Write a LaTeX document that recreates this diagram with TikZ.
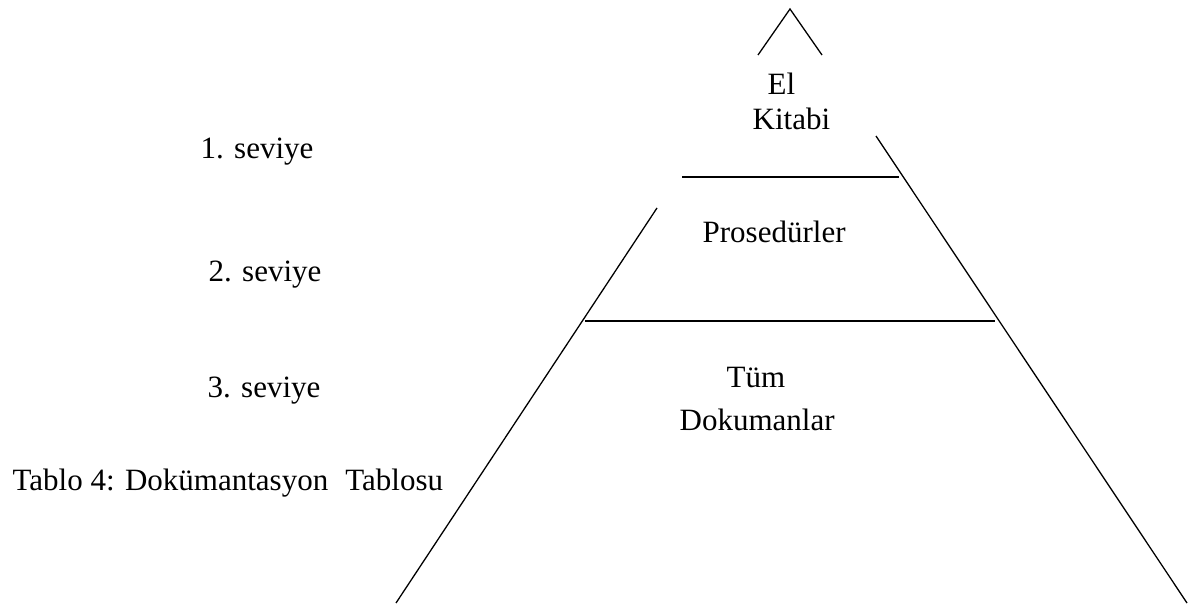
\documentclass[tikz,border=0pt]{standalone}
\usepackage{fontspec}
\setmainfont{Liberation Serif}
\begin{document}
\begin{tikzpicture}[x=0.387pt, y=-0.387pt, line width=0.5pt,
    lbl/.style={inner sep=0pt, anchor=base west, font=\fontsize{12}{14}\selectfont}]
            \useasboundingbox (0,0) rectangle (1204,606);
            % pyramid sides
            \draw (758,55) -- (790,9) -- (822,55);
            \draw (876,136) -- (1187,603);
            \draw (657,208) -- (396,603);
            \draw (682,177) -- (899,177);
            \draw (585,321) -- (995,321);
            % levels
            \foreach \n/\x/\y in {1/200/159, 2/208/282, 3/207/398} {\node[lbl] (lvl\n) at (\x,\y) {\n. seviye};}
            \node[lbl] (el) at (767,95) {El};
            \node[lbl] (kitabi) at (752,130) {Kitabi};
            \node[lbl] (prosedur) at (702,243) {Prosedürler};
            \node[lbl] (tum) at (726,388) {Tüm};
            \node[lbl] (dokuman) at (679,431) {Dokumanlar};
            \node[lbl] (caption) at (12,490) {Tablo 4: Dokümantasyon\hspace{0.55em}Tablosu};
        \end{tikzpicture}
\end{document}
